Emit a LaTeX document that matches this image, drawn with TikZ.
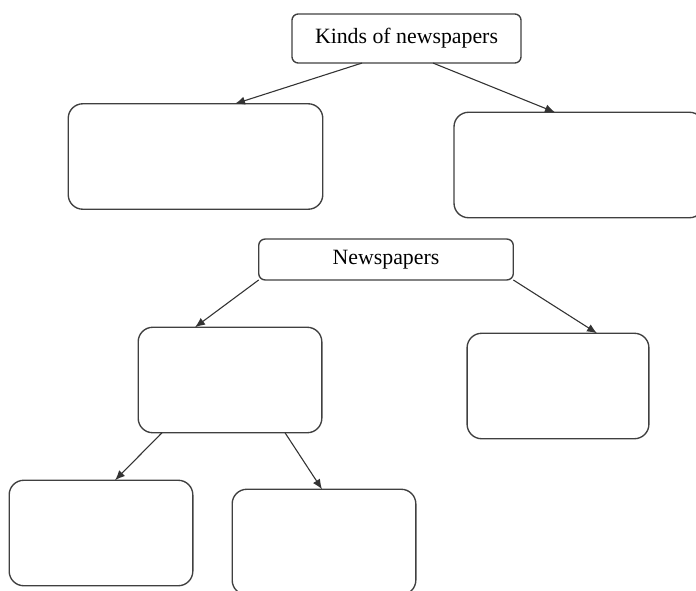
\documentclass[tikz,border=0pt]{standalone}
\usepackage{fontspec}
\setmainfont{Liberation Serif}
\usepackage{tikz}
\usetikzlibrary{calc,arrows.meta,positioning}
\tikzset{
  box/.style={draw=black!75,line width=0.75pt,rounded corners=8pt,inner sep=0pt,outer sep=0pt,
    minimum width=101pt,minimum height=58pt},
  titlebox/.style={box,rounded corners=3.5pt,font=\fontsize{12}{14}\selectfont},
  arr/.style={-{Latex[length=5.5pt,width=4.5pt]},draw=black!80,line width=0.6pt}
}

\begin{document}
\begin{tikzpicture}[x=0.55pt,y=-0.55pt]
  \clip (0,0) rectangle (696,590);
  \node[titlebox,minimum width=126pt,minimum height=27pt] (kinds) at (406.5,38.5) {Kinds of newspapers};
  \node[box,minimum width=140pt] (kindA) at (195.5,156.5) {};
  \node[box,minimum width=137.5pt] (kindB) at (579,165) {};

  \node[titlebox,minimum width=140pt,minimum height=22.5pt] (news) at (386,259.5) {Newspapers};
  \node[box] (newsA) at (230,380) {};
  \node[box,minimum width=100pt] (newsB) at (558,386) {};
  \node[box] (newsAA) at (101,533) {};
  \node[box] (newsAB) at (324,542) {};

  \draw[arr] ($(kinds.south)+(-44.5,0)$) -- ($(kindA.north)+(39.5,0)$);
  \draw[arr] ($(kinds.south)+(26.5,0)$) -- ($(kindB.north)+(-24,0)$);
  \draw[arr] (news.south west) -- ($(newsA.north)+(-35,0)$);
  \draw[arr] (news.south east) -- ($(newsB.north)+(39,0)$);
  \draw[arr] ($(newsA.south)+(-68,0)$) -- ($(newsAA.north)+(14,0)$);
  \draw[arr] ($(newsA.south)+(55,0)$) -- ($(newsAB.north)+(-2,0)$);
\end{tikzpicture}
\end{document}
